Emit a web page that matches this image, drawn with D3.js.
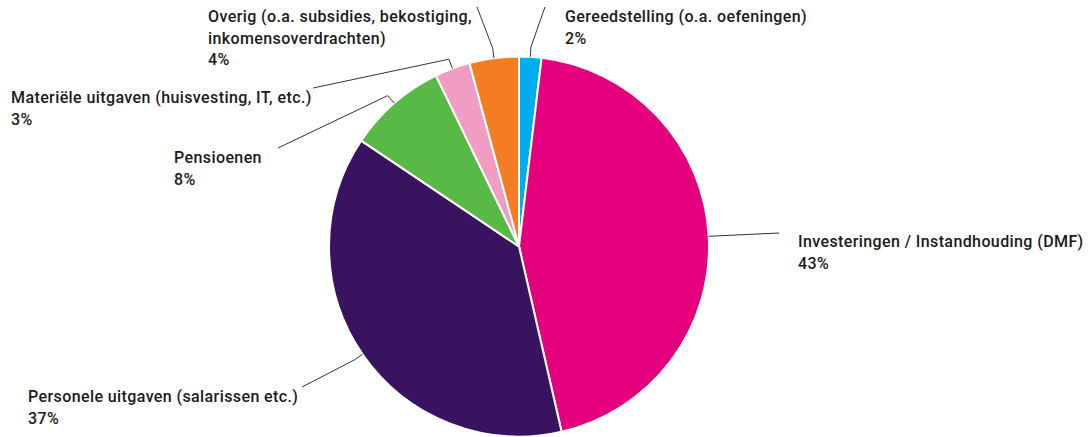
<!DOCTYPE html>
<html>
<head>
<meta charset="utf-8">
<script src="https://cdn.jsdelivr.net/npm/d3@7"></script>
<style>
  body { margin: 0; background: #fff; }
  svg text { font-family: Roboto, "Liberation Sans", sans-serif; font-weight: 500; fill: #1a1a1a; letter-spacing: 0.4px; }
</style>
</head>
<body>
<svg id="chart" width="1091" height="437"></svg>
<script>
// slices, clockwise from 12 o'clock
var categories = ['Gereedstelling (o.a. oefeningen)', 'Investeringen / Instandhouding (DMF)',
    'Personele uitgaven (salarissen etc.)', 'Pensioenen',
    'Materiële uitgaven (huisvesting, IT, etc.)',
    'Overig (o.a. subsidies, bekostiging,|inkomensoverdrachten)']
var shares = [1.9, 44.5, 38.0, 8.4, 3.0, 4.2]
var pctLabels = ['2%', '43%', '37%', '8%', '3%', '4%']
var colors = ['#00aeef', '#e5007d', '#39135f', '#59b947', '#f09cc3', '#f47c22']

// label placement: text x / first baseline, leader end point
var labelPos = [
    {x: 565, y: 22, lx: 545, ly: 7},
    {x: 798, y: 247, lx: 779, ly: 233},
    {x: 28, y: 402, lx: 302, ly: 387},
    {x: 174, y: 163, lx: 278, ly: 148},
    {x: 11, y: 103, lx: 313, ly: 88},
    {x: 208, y: 22, lx: 477, ly: 7}
]

function main() {
    var svg = d3.select('#chart')
    var cx = 519, cy = 246.5, r = 190

    var pie = d3.pie().sort(null).value(function(d) { return d })
    var arcs = pie(shares)
    var arc = d3.arc().innerRadius(0).outerRadius(r)
    var edge = d3.arc().innerRadius(r).outerRadius(r)
    var elbow = d3.arc().innerRadius(r + 10).outerRadius(r + 10)

    var g = svg.append('g').attr('transform', `translate(${cx}, ${cy})`)

    g.selectAll('.slice')
        .data(arcs)
        .enter().append('path')
        .attr('class', 'slice')
        .attr('d', arc)
        .attr('fill', function(d, i) { return colors[i] })
        .attr('stroke', '#fff')
        .attr('stroke-width', 2)

    // leader lines
    g.selectAll('.leader')
        .data(arcs)
        .enter().append('polyline')
        .attr('class', 'leader')
        .attr('fill', 'none')
        .attr('stroke', '#333')
        .attr('stroke-width', 1)
        .attr('points', function(d, i) {
            var a = edge.centroid(d), b = elbow.centroid(d)
            var p = labelPos[i]
            return [a, b, [p.lx - cx, p.ly - cy]].map(function(q) { return q.join(',') }).join(' ')
        })

    // labels
    categories.forEach(function(name, i) {
        var p = labelPos[i]
        var lines = name.split('|').concat([pctLabels[i]])
        var t = svg.append('text').attr('x', p.x).attr('y', p.y).attr('font-size', '16px')
        lines.forEach(function(line, j) {
            t.append('tspan').attr('x', p.x).attr('dy', j === 0 ? 0 : 21.5).text(line)
        })
    })
}
main()
</script>
</body>
</html>
